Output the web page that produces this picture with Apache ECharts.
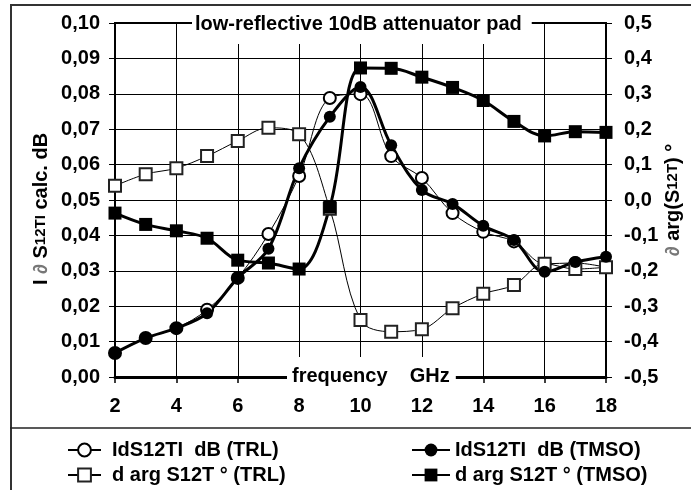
<!DOCTYPE html>
<html>
<head>
<meta charset="utf-8">
<script src="https://cdn.jsdelivr.net/npm/echarts@6/dist/echarts.min.js"></script>
<style>
  html, body { margin: 0; padding: 0; background: #fff; }
  #chart { width: 691px; height: 490px; }
</style>
</head>
<body>
<div id="chart"></div>
<script>
// ---- data ----
const freq = [2, 3, 4, 5, 6, 7, 8, 9, 10, 11, 12, 13, 14, 15, 16, 17, 18];
const trlDb  = [0.0068, 0.011, 0.0138, 0.019, 0.028, 0.0404, 0.0568, 0.0788, 0.0799, 0.0624, 0.0562, 0.0463, 0.041, 0.0383, 0.032, 0.0322, 0.031];
const tmsoDb = [0.0068, 0.011, 0.0138, 0.018, 0.028, 0.0362, 0.059, 0.0735, 0.0819, 0.0655, 0.0528, 0.0489, 0.0427, 0.0387, 0.0297, 0.0325, 0.034];
const trlArg  = [0.04, 0.073, 0.09, 0.124, 0.167, 0.204, 0.186, -0.025, -0.339, -0.372, -0.365, -0.306, -0.265, -0.24, -0.18, -0.195, -0.19];
const tmsoArg = [-0.037, -0.069, -0.087, -0.108, -0.17, -0.178, -0.195, -0.02, 0.373, 0.372, 0.347, 0.318, 0.281, 0.222, 0.181, 0.193, 0.191];
const seriesNames = ['IdS12TI  dB (TRL)', 'd arg S12T ° (TRL)', 'IdS12TI  dB (TMSO)', 'd arg S12T ° (TMSO)'];
const titleText = 'low-reflective 10dB attenuator pad';
const xName = 'frequency    GHz';

const pairs = arr => freq.map((f, i) => [f, arr[i]]);
const FONT = '"Liberation Sans", Arial, sans-serif';
const comma = (v, d) => (Math.abs(v) < 1e-9 ? 0 : v).toFixed(d).replace('.', ',');

const chart = echarts.init(document.getElementById('chart'), null, { renderer: 'canvas' });
chart.setOption({
  animation: false,
  backgroundColor: '#fff',
  textStyle: { fontFamily: FONT },
  graphic: [
    { type: 'line', shape: { x1: 11, y1: 5, x2: 11, y2: 490 }, style: { stroke: '#333', lineWidth: 2 }, z: 0 },
    { type: 'line', shape: { x1: 10, y1: 5, x2: 691, y2: 5 }, style: { stroke: '#333', lineWidth: 2 }, z: 0 },
    { type: 'line', shape: { x1: 10, y1: 428, x2: 691, y2: 428 }, style: { stroke: '#222', lineWidth: 1.5 }, z: 0 },
    {
      type: 'text', left: 287, top: 357, z: 100,
      style: {
        text: xName, font: 'bold 20px "Liberation Sans", Arial, sans-serif', fill: '#000',
        backgroundColor: '#fff', padding: [9, 6, 9, 5]
      }
    }
  ],
  title: {
    text: titleText,
    left: 192, top: 7,
    padding: [7, 10, 10, 3],
    backgroundColor: '#fff',
    textStyle: { fontFamily: FONT, fontSize: 20, fontWeight: 'bold', color: '#000' }
  },
  legend: [
    {
      data: [seriesNames[0], seriesNames[1]],
      orient: 'vertical', left: 67, top: 440, padding: 0,
      itemWidth: 33, itemHeight: 16, itemGap: 5,
      textStyle: { fontFamily: FONT, fontSize: 20, fontWeight: 'bold', color: '#000', padding: [0, 0, 0, 6] }
    },
    {
      data: [seriesNames[2], seriesNames[3]],
      orient: 'vertical', left: 411, top: 440, padding: 0,
      itemWidth: 38, itemHeight: 16, itemGap: 5,
      textStyle: { fontFamily: FONT, fontSize: 20, fontWeight: 'bold', color: '#000', padding: [0, 0, 0, 0] }
    }
  ],
  grid: { left: 115, right: 82, top: 23, bottom: 113, show: true, borderColor: '#000', borderWidth: 2, backgroundColor: 'transparent' },
  xAxis: {
    type: 'value', min: 2, max: 18, interval: 2,
    axisLine: { show: true, onZero: false, lineStyle: { color: '#000', width: 3 } },
    axisTick: { show: true, length: 6, lineStyle: { color: '#000', width: 1.5 } },
    axisLabel: { margin: 19, fontFamily: FONT, fontSize: 20, fontWeight: 'bold', color: '#000' },
    splitLine: { show: true, lineStyle: { color: '#000', width: 1 } }
  },
  yAxis: [
    {
      type: 'value', min: 0, max: 0.1, interval: 0.01, position: 'left',
      name: 'I {d|∂} S{s|12TI} calc. dB',
      nameLocation: 'middle', nameGap: 64, nameMoveOverlap: false,
      nameTextStyle: {
        fontFamily: FONT, fontSize: 20, fontWeight: 'bold', color: '#000', padding: [0, 18, 0, 0],
        rich: {
          d: { fontFamily: FONT, fontSize: 20, fontStyle: 'italic', fontWeight: 'bold', color: '#777' },
          s: { fontFamily: FONT, fontSize: 15, fontWeight: 'bold', color: '#000' }
        }
      },
      axisLine: { show: true, lineStyle: { color: '#000', width: 2 } },
      axisTick: { show: true, length: 6, lineStyle: { color: '#000', width: 1 } },
      axisLabel: { margin: 15, fontFamily: FONT, fontSize: 20, fontWeight: 'bold', color: '#000', formatter: v => comma(v, 2) },
      splitLine: { show: true, lineStyle: { color: '#000', width: 1 } }
    },
    {
      type: 'value', min: -0.5, max: 0.5, interval: 0.1, position: 'right',
      name: '{d|∂} arg(S{s|12T}) °',
      nameLocation: 'middle', nameGap: 57, nameMoveOverlap: false,
      nameTextStyle: {
        fontFamily: FONT, fontSize: 20, fontWeight: 'bold', color: '#000',
        rich: {
          d: { fontFamily: FONT, fontSize: 20, fontStyle: 'italic', fontWeight: 'bold', color: '#777' },
          s: { fontFamily: FONT, fontSize: 15, fontWeight: 'bold', color: '#000' }
        }
      },
      axisLine: { show: true, lineStyle: { color: '#000', width: 2 } },
      axisTick: { show: true, length: 6, lineStyle: { color: '#000', width: 1 } },
      axisLabel: { margin: 18, fontFamily: FONT, fontSize: 20, fontWeight: 'bold', color: '#000', formatter: v => comma(v, 1) },
      splitLine: { show: false }
    }
  ],
  series: [
    {
      name: seriesNames[0], type: 'line', yAxisIndex: 0, data: pairs(trlDb),
      smooth: 0.35, symbol: 'emptyCircle', symbolSize: 12,
      lineStyle: { color: '#000', width: 1 },
      itemStyle: { color: '#000', borderColor: '#000', borderWidth: 1 }
    },
    {
      name: seriesNames[1], type: 'line', yAxisIndex: 1, data: pairs(trlArg),
      smooth: 0.35, symbol: 'emptyRect', symbolSize: 12,
      lineStyle: { color: '#000', width: 1 },
      itemStyle: { color: '#222', borderColor: '#222', borderWidth: 1.2 }
    },
    {
      name: seriesNames[2], type: 'line', yAxisIndex: 0, data: pairs(tmsoDb),
      smooth: 0.35, symbol: 'circle', symbolSize: 12,
      lineStyle: { color: '#000', width: 3 },
      itemStyle: { color: '#000' }
    },
    {
      name: seriesNames[3], type: 'line', yAxisIndex: 1, data: pairs(tmsoArg),
      smooth: 0.35, symbol: 'rect', symbolSize: 13,
      lineStyle: { color: '#000', width: 3 },
      itemStyle: { color: '#000' }
    }
  ]
});
</script>
</body>
</html>
